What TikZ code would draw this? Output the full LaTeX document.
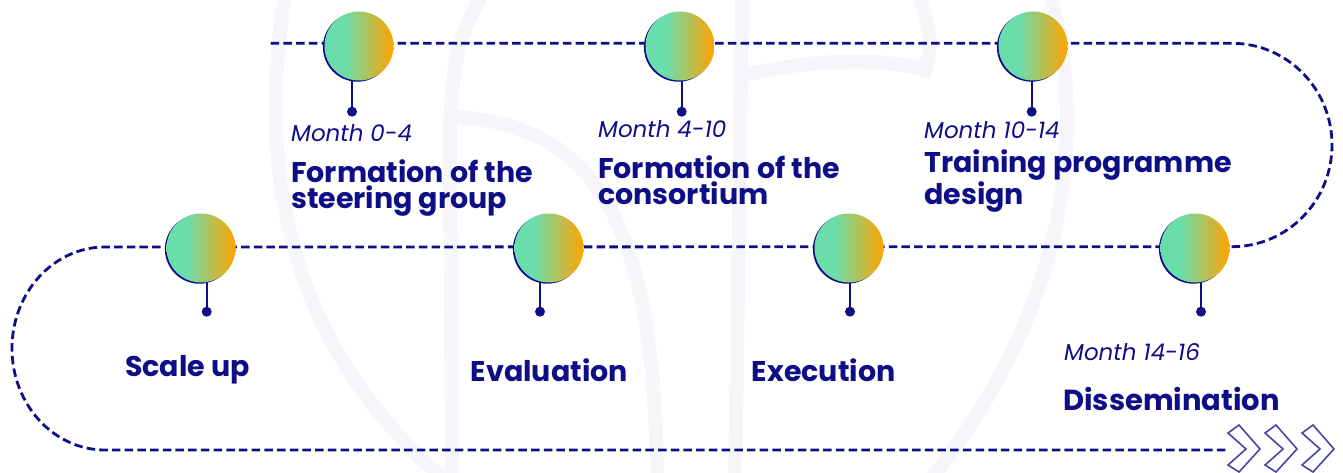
\documentclass[tikz,border=0pt]{standalone}
\usepackage{fontspec}
\setmainfont{Poppins}
\definecolor{mnavy}{HTML}{0E0E86}
\definecolor{mgreen}{HTML}{6BDDAB}
\definecolor{morange}{HTML}{F4A80C}
\definecolor{mchev}{HTML}{4646A6}
\definecolor{wm}{HTML}{F6F6FA}
\pgfdeclarelayer{bg}
\pgfsetlayers{bg,main}
\pgfdeclarehorizontalshading{gg}{100bp}{color(0bp)=(mgreen); color(40bp)=(mgreen); color(72bp)=(morange); color(100bp)=(morange)}
\tikzset{
  ms/.style={circle, minimum size=69pt, inner sep=0pt, shade, shading=gg,
    preaction={fill=mnavy, transform canvas={xshift=-1.6pt, yshift=-1.2pt}}},
  dotnode/.style={circle, fill=mnavy, inner sep=0pt, minimum size=10pt},
  stemline/.style={draw=mnavy, line width=1.8pt},
  tline/.style={draw=mnavy, line width=2.8pt, dash pattern=on 8.5pt off 4.2pt},
  mon/.style={anchor=base west, inner sep=0pt, text=mnavy, font=\itshape\fontsize{23}{23}\selectfont},
  ttl/.style={anchor=base west, inner sep=0pt, text=mnavy, align=left, font=\bfseries\fontsize{28.5}{25.8}\selectfont},
  chev/.style={draw=mchev, line width=1.6pt, line join=miter},
  wmark/.style={draw=wm, line width=14pt, line cap=round}
}
\begin{document}
\begin{tikzpicture}[x=1pt, y=-1pt]
\useasboundingbox (0,0) rectangle (1343,473);
% milestones
\node[ms] (c1) at (359,46) {};
\node[ms] (c2) at (680,46) {};
\node[ms] (c3) at (1033,46) {};
\node[ms] (c4) at (1195,248) {};
\node[ms] (c5) at (849,248) {};
\node[ms] (c6) at (549,248) {};
\node[ms] (c7) at (201,248) {};
% dots
\node[dotnode] (d1) at (352,111.7) {};
\node[dotnode] (d2) at (681.7,111.7) {};
\node[dotnode] (d3) at (1031.7,111.7) {};
\node[dotnode] (d4) at (1201,311.7) {};
\node[dotnode] (d5) at (850,311.7) {};
\node[dotnode] (d6) at (540,311.7) {};
\node[dotnode] (d7) at (206.7,311.7) {};
% labels
\node[mon] (m1) at (291,141.7) {Month 0-4};
\node[ttl] (t1) at (291,208.3) {Formation of the\\steering group};
\node[mon] (m2) at (598,137.3) {Month 4-10};
\node[ttl] (t2) at (598,204.3) {Formation of the\\consortium};
\node[mon] (m3) at (924,138.3) {Month 10-14};
\node[ttl] (t3) at (924,204.3) {Training programme\\design};
\node[mon] (m4) at (1064,360) {Month 14-16};
\node[ttl, font=\bfseries\fontsize{29}{29}\selectfont] (t4) at (1063,410) {Dissemination};
\node[ttl] (t5) at (751.7,381) {Execution};
\node[ttl] (t6) at (470.7,381) {Evaluation};
\node[ttl] (t7) at (125,376.7) {Scale up};
% chevrons
\foreach \x in {1228,1265,1302}{
  \draw[chev] (\x,433) -- (\x+11,425) -- (\x+32,449) -- (\x+11,472) -- (\x,465) -- (\x+18,449) -- cycle;
}
\coordinate (pstart) at (270.7,43.3);
\coordinate (pend) at (1228,450);
\begin{pgfonlayer}{bg}
  % faint watermark
  \draw[wmark] (285,-5) .. controls (262,140) and (270,330) .. (445,480);
  \draw[wmark] (482,-5) .. controls (455,40) and (450,80) .. (450,150) -- (452,480);
  \draw[wmark] (455,117) .. controls (600,125) and (655,230) .. (657,480);
  \draw[wmark] (742,-5) .. controls (740,150) and (738,300) .. (735,480);
  \draw[wmark] (745,75) .. controls (800,62) and (870,55) .. (925,70) .. controls (932,40) .. (920,-5);
  \draw[wmark] (1050,-5) .. controls (1085,120) and (1075,300) .. (930,480);
  % timeline path
  \draw[tline] (pstart) -- (1232,43.3)
     arc[start angle=-90, end angle=90, x radius=100, y radius=101.7]
     -- (105,247)
     arc[start angle=-90, end angle=-270, x radius=93, y radius=101.5]
     -- (pend);
  % stems
  \foreach \i in {1,...,7}{
    \draw[stemline] (d\i |- c\i.center) -- (d\i.center);
  }
\end{pgfonlayer}
\end{tikzpicture}
\end{document}
